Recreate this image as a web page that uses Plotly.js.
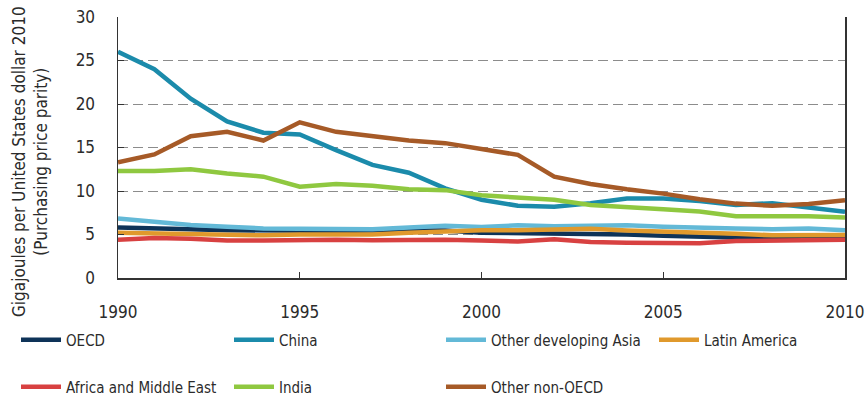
<!DOCTYPE html>
<html>
<head>
<meta charset="utf-8">
<script src="https://cdn.plot.ly/plotly-3.0.1.min.js"></script>
<style>html,body{margin:0;padding:0;background:#fff;}#chart{width:865px;height:400px;}</style>
</head>
<body>
<div id="chart"></div>
<script>
const years = [1990,1991,1992,1993,1994,1995,1996,1997,1998,1999,2000,2001,2002,2003,2004,2005,2006,2007,2008,2009,2010];
const oecd = [5.8,5.75,5.6,5.5,5.45,5.4,5.4,5.45,5.45,5.45,5.2,5.15,5.15,5.1,5.0,4.85,4.75,4.6,4.5,4.45,4.45];
const china = [26.0,24.0,20.6,18.0,16.7,16.5,14.7,13.0,12.1,10.3,9.0,8.3,8.2,8.6,9.15,9.15,8.85,8.4,8.6,8.1,7.6];
const otherAsia = [6.85,6.45,6.1,5.9,5.7,5.65,5.6,5.6,5.8,6.0,5.85,6.05,5.95,6.05,6.05,5.9,5.85,5.7,5.6,5.7,5.5];
const latinAmerica = [5.2,5.1,5.05,4.9,4.9,5.0,5.0,5.0,5.2,5.4,5.5,5.5,5.6,5.65,5.45,5.35,5.25,5.1,4.9,4.9,4.95];
const africaME = [4.4,4.6,4.5,4.3,4.3,4.4,4.4,4.35,4.4,4.4,4.3,4.2,4.45,4.15,4.05,4.05,4.0,4.25,4.3,4.4,4.4];
const india = [12.3,12.3,12.5,12.0,11.65,10.5,10.8,10.6,10.2,10.1,9.5,9.25,9.0,8.4,8.2,7.9,7.65,7.1,7.1,7.1,6.95];
const otherNonOECD = [13.3,14.2,16.3,16.8,15.8,17.9,16.8,16.3,15.8,15.5,14.8,14.15,11.65,10.8,10.2,9.7,9.05,8.55,8.3,8.5,8.95];
const seriesNames = ['OECD','China','Other developing Asia','Latin America','Africa and Middle East','India','Other non-OECD'];
const xTicks = [1990,1995,2000,2005,2010];
const yTicks = [0,5,10,15,20,25,30];
const yTitle = 'Gigajoules per United States dollar 2010<br>(Purchasing price parity)';

const FONT = '"Noto Sans Condensed", "DejaVu Sans Condensed", sans-serif';
const TXT = '#2b2b2b';
const values = [oecd, china, otherAsia, latinAmerica, africaME, india, otherNonOECD];
const colors = ['#0e3358','#1b8bab','#63b9d7','#e0992c','#d84141','#8fc840','#a65a27'];

// legend slots: [left px, centre y px] in the 865x400 canvas
const L = 118, R = 845, T = 17, B = 278;
const legendSlots = [[16,340],[229,340],[441,340],[654,340],[16,387],[229,387],[441,387]];
const legendIds = ['legend','legend2','legend3','legend4','legend5','legend6','legend7'];

const data = values.map((v, i) => ({
  type:'scatter', mode:'lines', x:years, y:v, name:seriesNames[i], legend:legendIds[i],
  line:{color:colors[i], width:4.5}
}));

const layout = {
  width:865, height:400,
  margin:{l:L, r:865-R, t:T, b:400-B, autoexpand:false},
  paper_bgcolor:'#fff', plot_bgcolor:'#fff',
  font:{family:FONT, size:15, color:TXT},
  showlegend:true,
  xaxis:{
    range:[1990,2010], tickvals:xTicks, ticktext:xTicks.map(String),
    showgrid:false, zeroline:false, showline:true, linecolor:'#333', linewidth:1.5,
    ticks:'inside', ticklen:6, tickcolor:'#333', ticklabelstandoff:18,
    ticklabeloverflow:'allow',
    tickfont:{family:FONT, size:17, color:TXT}
  },
  yaxis:{
    range:[0,30], tickvals:yTicks, ticktext:yTicks.map(String),
    showgrid:true, gridcolor:'#8c8c8c', gridwidth:1, griddash:'10px,5px',
    zeroline:false, showline:true, mirror:true, linecolor:'#333', linewidth:1.5,
    ticks:'inside', ticklen:6, tickcolor:'#333', ticklabelstandoff:18,
    tickfont:{family:FONT, size:17, color:TXT}
  },
  annotations:[{
    text:yTitle, xref:'paper', yref:'paper', x:(30 - L) / (R - L), y:(B - 162) / (B - T),
    xanchor:'center', yanchor:'middle', textangle:-90, showarrow:false,
    font:{family:FONT, size:17, color:TXT}
  }]
};
legendIds.forEach((id, i) => {
  layout[id] = {
    orientation:'h', xanchor:'left', yanchor:'middle',
    x:(legendSlots[i][0] - L) / (R - L), y:(B - legendSlots[i][1]) / (B - T),
    itemwidth:40, bgcolor:'rgba(0,0,0,0)', borderwidth:0,
    font:{family:FONT, size:15, color:TXT}
  };
});
Plotly.newPlot('chart', data, layout, {displayModeBar:false, staticPlot:true});
</script>
</body>
</html>
